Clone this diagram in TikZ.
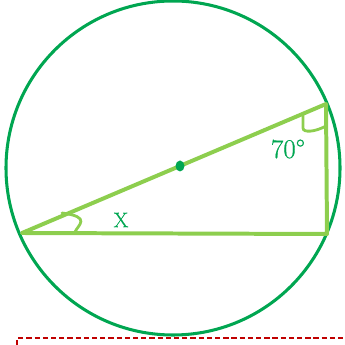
\documentclass[tikz,border=0pt]{standalone}
\usepackage{fontspec}
\usepackage{xcolor}
\usetikzlibrary{calc}
\newfontfamily\lblfont{Latin Modern Roman}[FakeBold=0.6]
\definecolor{ringgreen}{RGB}{0,166,81}
\definecolor{sidegreen}{RGB}{141,206,78}
\definecolor{cutred}{RGB}{192,0,0}
\tikzset{ring/.style={draw=ringgreen,line width=2.6pt},
  side/.style={draw=sidegreen,line width=3.4pt,line join=round,line cap=round},
  anglemark/.style={draw=sidegreen,line width=2.4pt,line cap=round},
  lbl/.style={text=ringgreen,inner sep=0pt}}

\begin{document}
\begin{tikzpicture}[x=0.03cm,y=0.03cm]
\useasboundingbox (0,0) rectangle (344,345);
\coordinate (O) at (173,177);
\coordinate (A) at (22,112);
\coordinate (B) at (326,241);
\coordinate (C) at (327,111);
\draw[ring] (O) circle (167);
\draw[side] (A) -- (B) -- (C) -- cycle;
\fill[ringgreen] (180,179) ellipse (4.5 and 5.5);
% angle marks
\draw[anglemark] (62,132) .. controls (92,128) and (78,120) .. (75,113);
\draw[anglemark] (303,231) -- (303,217) .. controls (303,212) and (315,213) .. (326,219);
\node[lbl,font=\lblfont\fontsize{23}{27}\selectfont] (ang) at (288,196) {70°};
\node[lbl,font=\lblfont\fontsize{18}{21}\selectfont] (x) at (121,125) {X};
% cut line
\draw[cutred,line width=1.7pt,dash pattern=on 4.5pt off 2.5pt] (17,0) -- (17,7) -- (344,7);
\end{tikzpicture}
\end{document}
